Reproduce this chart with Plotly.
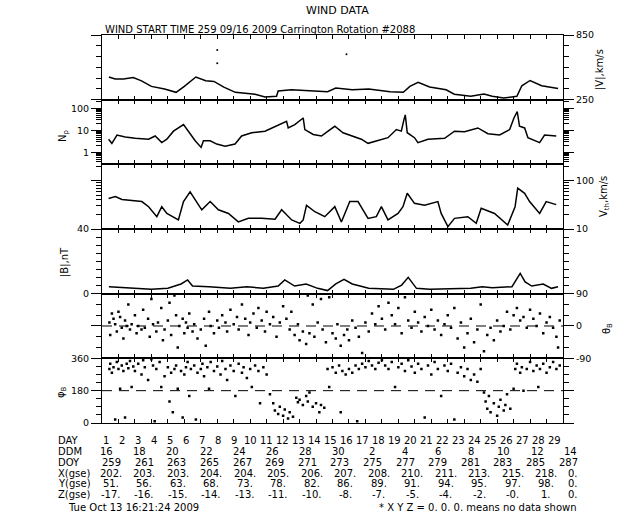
import plotly.graph_objects as go
from plotly.subplots import make_subplots

# ---- solar wind parameters, time in "DAY" units (day 1 = DOY 259) ----
V_DAY = [1.42, 1.8, 2.3, 2.9, 3.4, 4.0, 4.8, 5.5, 6.0, 6.7, 7.3, 7.8, 8.4, 9.1, 10.3, 10.9,
         11.6, 11.7, 12.5, 13.7, 14.7, 15.2, 16.2, 17.2, 18.5, 19.3, 19.7, 20.2, 20.9, 21.9,
         22.4, 23.4, 24.2, 24.7, 25.4, 26.2, 26.5, 27.0, 27.7, 28.7]
V_KMS = [460, 441, 441, 455, 425, 373, 349, 318, 373, 460, 425, 419, 367, 318, 300, 275,
         281, 330, 342, 330, 324, 358, 342, 349, 324, 318, 373, 410, 367, 342,
         300, 281, 302, 281, 265, 281, 379, 428, 379, 354]
V_OUT_DAY = [8.0, 8.0, 15.85]
V_OUT_KMS = [711, 589, 672]

NP_DAY = [1.40, 1.60, 1.91, 2.41, 3.02, 3.83, 4.23, 4.63, 4.94, 5.34, 5.95, 6.25, 6.66, 7.02,
          7.16, 7.57, 7.97, 8.48, 9.08, 9.48, 10.09, 10.90, 11.60, 12.21, 12.31, 12.71, 13.22,
          13.32, 13.83, 14.33, 14.73, 15.14, 15.64, 16.15, 16.75, 17.16, 17.77, 18.37, 18.88,
          19.18, 19.34, 19.42, 19.54, 19.98, 20.19, 20.80, 21.81, 22.41, 23.02, 23.83, 24.44,
          25.15, 25.76, 26.02, 26.22, 26.36, 26.67, 26.87, 27.58, 27.88, 28.59]
NP_CC = [4.0, 2.6, 6.2, 5.0, 4.4, 4.0, 5.6, 2.8, 4.0, 9.3, 18.5, 9.3, 3.4, 1.7,
         3.4, 3.4, 2.4, 1.9, 2.4, 5.6, 7.9, 9.3, 15.5, 26, 13, 18.5, 37,
         11, 6.6, 5.6, 9.3, 15.5, 7.9, 5.6, 4.0, 2.6, 3.4, 4.7, 11,
         9.3, 31, 51, 7.9, 4.7, 2.8, 4.0, 4.4, 9.3, 8.7, 13, 7.1,
         6.2, 11, 37, 72, 15.5, 13, 4.7, 2.8, 6.2, 5.6]

VTH_DAY = [1.40, 1.81, 2.21, 2.82, 3.42, 3.83, 4.33, 4.63, 4.94, 5.64, 5.95, 6.35, 6.66, 7.06,
           7.57, 8.07, 8.68, 9.28, 9.89, 10.70, 11.51, 11.91, 12.52, 13.02, 13.22, 13.42, 13.93,
           14.53, 15.14, 15.54, 16.05, 16.55, 16.85, 17.16, 17.66, 17.97, 18.37, 18.98, 19.28,
           19.54, 19.98, 20.59, 21.40, 21.60, 22.01, 22.41, 23.22, 23.73, 24.03, 24.84, 25.64,
           26.09, 26.25, 26.67, 26.97, 27.58, 27.98, 28.59]
VTH_KMS = [43, 47, 41, 38.5, 37, 29, 18, 29, 21, 15.4, 37, 59, 40, 25,
           37, 25, 21, 14, 16.6, 16.6, 15.9, 25, 15.4, 13.1, 15.4, 31, 22.8,
           18, 29, 14, 37, 37, 25, 16.6, 18, 29, 15.4, 21, 29,
           55, 34, 31, 37, 21, 11.2, 16.6, 18, 13.1, 27, 21, 12.1,
           29, 70, 55, 37, 21, 37, 32]

B_DAY = [1.42, 2.3, 3.3, 4.0, 5.0, 5.8, 6.2, 6.5, 7.5, 8.8, 9.8, 10.8, 11.7, 12.1, 12.7, 13.4,
         14.1, 14.7, 15.2, 15.7, 16.2, 17.2, 18.7, 19.2, 19.6, 20.1, 20.9, 22.2, 23.4, 24.1,
         24.7, 25.9, 26.4, 26.7, 27.1, 27.8, 28.3, 28.7]
B_NT = [4.3, 3.9, 3.3, 2.7, 3.3, 6.0, 8.5, 4.7, 4.3, 3.3, 4.3, 3.3, 4.7, 8.5, 4.7, 6.0,
        3.3, 1.9, 6.0, 8.9, 6.0, 3.3, 2.7, 5.3, 10.1, 3.3, 2.7, 3.1, 3.3, 4.3,
        3.7, 4.3, 12.5, 7.3, 4.7, 6.0, 3.3, 4.3]

TH_DAY = [1.45, 1.5, 1.6, 1.7, 1.8, 1.9, 2.0, 2.1, 2.2, 2.3, 2.4, 2.5, 2.6, 2.7, 2.8, 3.0, 3.1,
          3.2, 3.4, 3.5, 3.6, 3.8, 3.9, 4.0, 4.1, 4.3, 4.4, 4.6, 4.7, 4.8, 5.0, 5.1, 5.2, 5.4,
          5.5, 5.6, 5.7, 5.9, 6.0, 6.1, 6.2, 6.3, 6.5, 6.6, 6.8, 7.0, 7.2, 7.3, 7.5, 7.6, 7.8,
          8.0, 8.1, 8.3, 8.5, 8.6, 8.8, 9.0, 9.2, 9.3, 9.5, 9.7, 9.9, 10.0, 10.2, 10.4, 10.5,
          10.7, 10.9, 11.0, 11.2, 11.4, 11.6, 11.8, 12.0, 12.2, 12.4, 12.5, 12.7, 12.9, 13.0,
          13.2, 13.4, 13.5, 13.6, 13.8, 13.9, 14.1, 14.3, 14.4, 14.6, 14.8, 15.0, 15.2, 15.3,
          15.5, 15.7, 15.9, 16.0, 16.2, 16.4, 16.6, 16.8, 17.0, 17.2, 17.4, 17.6, 17.8, 18.0,
          18.2, 18.4, 18.6, 18.8, 19.0, 19.2, 19.4, 19.6, 19.8, 20.0, 20.2, 20.4, 20.6, 20.8,
          21.0, 21.2, 21.4, 21.6, 21.8, 22.0, 22.2, 22.4, 22.6, 22.8, 23.0, 23.2, 23.4, 23.6,
          23.8, 24.0, 24.2, 24.4, 24.6, 24.8, 25.0, 25.2, 25.4, 25.6, 25.8, 26.0, 26.2, 26.4,
          26.6, 26.8, 27.0, 27.2, 27.4, 27.6, 27.8, 28.0, 28.2, 28.4, 28.6, 28.7, 28.8]
TH_DEG = [10, -25, 35, 20, 5, -15, 40, 25, -5, -35, 15, 0, 60, -10, 5, 30, -20,
          0, -10, 45, -5, 20, -30, 75, 5, -15, 10, 50, -40, -10, 15, 65, -25, 85,
          30, -60, 0, 20, -20, 10, -5, 35, -15, 5, -35, -10, 20, -55, 40, 0, -20,
          15, -5, 30, 10, -15, 45, 5, 25, -10, 60, 20, -25, 10, 35, -5, 50,
          15, -15, 40, 5, 25, -30, 10, 55, 20, -10, 40, -25, 5, -40,
          -15, -50, 85, -20, 60, -30, 10, 75, -10, -45, 80, -20, -35, 5,
          -55, -25, -10, -40, 15, -5, -30, -75, 10, -15, 35, 5, 55, 20,
          -10, 65, 30, 5, 50, -20, 80, 15, -5, 40, 10, -15, 25, 0,
          45, -10, 15, -25, 5, 30, -5, 50, -35, 10, -60, -20, 20, -45,
          -10, 60, -70, -25, -5, -40, 15, -15, 0, 40, -10, 30, 50, 15,
          25, -5, 45, 20, 0, 35, -20, 10, 25, -5, -30, -60, 15]

PH_DAY = [1.45, 1.5, 1.6, 1.7, 1.8, 1.9, 2.0, 2.1, 2.2, 2.3, 2.4, 2.5, 2.6, 2.7, 2.8, 2.9, 3.0,
          3.2, 3.4, 3.5, 3.6, 3.8, 4.0, 4.1, 4.2, 4.3, 4.5, 4.6, 4.8, 5.0, 5.1, 5.2, 5.3, 5.4,
          5.5, 5.6, 5.8, 5.9, 6.0, 6.1, 6.2, 6.3, 6.4, 6.6, 6.7, 6.8, 7.0, 7.1, 7.2, 7.4, 7.5,
          7.6, 7.8, 8.0, 8.2, 8.3, 8.5, 8.6, 8.8, 9.0, 9.1, 9.3, 9.5, 9.6, 9.8, 10.0, 10.1,
          10.3, 10.5, 10.6, 10.8, 11.0, 11.2, 11.4, 11.5, 11.7, 11.8, 12.0, 12.1, 12.3, 12.4,
          12.6, 12.8, 12.9, 13.0, 13.2, 13.4, 13.5, 13.6, 13.8, 14.0, 14.2, 14.3, 14.5, 14.7,
          14.8, 15.0, 15.2, 15.4, 15.5, 15.6, 15.8, 16.0, 16.2, 16.4, 16.5, 16.6, 16.8, 17.0,
          17.2, 17.4, 17.6, 17.8, 18.0, 18.2, 18.4, 18.6, 18.8, 19.0, 19.2, 19.4, 19.6, 19.8,
          20.0, 20.2, 20.4, 20.6, 20.8, 21.0, 21.2, 21.4, 21.6, 21.8, 22.0, 22.2, 22.4, 22.6,
          22.8, 23.0, 23.2, 23.4, 23.6, 23.8, 24.0, 24.2, 24.3, 24.4, 24.5, 24.6, 24.8, 25.0,
          25.1, 25.2, 25.4, 25.5, 25.6, 25.8, 26.0, 26.1, 26.2, 26.4, 26.5, 26.6, 26.8, 27.0,
          27.2, 27.4, 27.5, 27.6, 27.8, 28.0, 28.2, 28.4, 28.6, 28.8]
PH_DEG = [300, 330, 280, 310, 20, 340, 300, 190, 320, 290, 30, 330, 305, 345, 200, 315, 290,
          330, 270, 350, 310, 240, 355, 320, 10, 300, 340, 200, 260, 310, 120, 280, 60, 300,
          320, 190, 290, 30, 270, 310, 340, 150, 300, 320, 20, 280, 300, 330, 260, 310, 190,
          340, 290, 315, 270, 345, 300, 240, 320, 290, 150, 330, 280, 310, 250, 300, 200,
          320, 290, 110, 310, 270, 160, 110, 70, 50, 90, 40, 75, 25, 60,
          35, 140, 115, 130, 100, 150, 120, 170, 90, 110, 60, 100, 85, 300,
          200, 310, 280, 320, 60, 290, 270, 300, 280, 320, 10, 300, 330, 310,
          345, 320, 300, 335, 350, 320, 300, 340, 200, 310, 330, 290, 350, 315,
          280, 330, 300, 30, 320, 270, 340, 300, 150, 320, 290, 330, 20, 280,
          310, 260, 300, 240, 270, 230, 300, 170, 120, 80, 150, 60, 110, 40,
          90, 130, 70, 100, 160, 80, 190, 300, 330, 280, 310, 180, 300, 340,
          290, 320, 200, 300, 330, 280, 310, 340, 300, 320]

# ---- table below the panels ----
DAY_LABELS = ["1", "2", "3", "4", "5", "6", "7", "8", "9", "10", "11", "12", "13", "14", "15",
              "16", "17", "18", "19", "20", "21", "22", "23", "24", "25", "26", "27", "28", "29"]
DDM = ["16", "18", "20", "22", "24", "26", "28", "30", "2", "4", "6", "8", "10", "12", "14"]
DOY = ["259", "261", "263", "265", "267", "269", "271", "273", "275", "277", "279", "281",
       "283", "285", "287"]
X_GSE = ["202.", "203.", "203.", "204.", "204.", "205.", "206.", "207.", "208.", "210.",
         "211.", "213.", "215.", "218.", "0."]
Y_GSE = ["51.", "56.", "63.", "68.", "73.", "78.", "82.", "86.", "89.", "91.", "94.", "95.",
         "97.", "98.", "0."]
Z_GSE = ["-17.", "-16.", "-15.", "-14.", "-13.", "-11.", "-10.", "-8.", "-7.", "-5.", "-4.",
         "-2.", "-0.", "1.", "0."]

W, H = 640, 512
L, R, T, B = 102, 77, 35, 89
PW, PH = W - L - R, H - T - B
FONT = "DejaVu Sans"


def px(x):
    return (x - L) / PW


def py(y):
    return (H - B - y) / PH


fig = make_subplots(rows=6, cols=1, shared_xaxes=True, vertical_spacing=0)

line = dict(color="black", width=1.5)
fig.add_trace(go.Scatter(x=V_DAY, y=V_KMS, mode="lines", line=line), row=1, col=1)
fig.add_trace(go.Scatter(x=V_OUT_DAY, y=V_OUT_KMS, mode="markers",
                         marker=dict(color="black", size=2)), row=1, col=1)
fig.add_trace(go.Scatter(x=NP_DAY, y=NP_CC, mode="lines", line=line), row=2, col=1)
fig.add_trace(go.Scatter(x=VTH_DAY, y=VTH_KMS, mode="lines", line=line), row=3, col=1)
fig.add_trace(go.Scatter(x=B_DAY, y=B_NT, mode="lines", line=line), row=4, col=1)
dots = dict(color="black", size=2.5, symbol="square")
fig.add_trace(go.Scatter(x=TH_DAY, y=TH_DEG, mode="markers", marker=dots), row=5, col=1)
fig.add_trace(go.Scatter(x=PH_DAY, y=PH_DEG, mode="markers", marker=dots), row=6, col=1)

fig.add_hline(y=0, row=5, col=1, line=dict(color="black", width=1, dash="10px,7px"))
fig.add_hline(y=180, row=6, col=1, line=dict(color="black", width=1, dash="10px,7px"))

for r in range(1, 7):
    fig.update_xaxes(range=[1, 29], tick0=1, dtick=1, ticks="inside", ticklen=4,
                     showline=True, mirror="ticks", linecolor="black", linewidth=1,
                     tickcolor="black", showticklabels=False, showgrid=False,
                     zeroline=False, row=r, col=1)

yax = dict(showline=True, mirror="ticks", linecolor="black", linewidth=1, ticks="outside",
           ticklen=10, tickcolor="black", showgrid=False, zeroline=False,
           tickfont=dict(size=9.5, color="black"), tickmode="array")


def minor(**kw):
    return dict(ticks="outside", ticklen=5, tickcolor="black", showgrid=False, **kw)


fig.update_yaxes(**yax, range=[250, 850], tickvals=[250, 850], ticktext=["250", "850"],
                 minor=minor(tick0=250, dtick=100), side="right", row=1, col=1)
fig.update_yaxes(**yax, type="log", range=[-0.54, 2.4],
                 tickvals=[1, 10, 100], ticktext=["1", "10", "100"],
                 minor=minor(tickmode="array",
                             tickvals=[0.4, 0.5, 0.6, 0.7, 0.8, 0.9, 2, 3, 4, 5, 6, 7, 8, 9,
                                       20, 30, 40, 50, 60, 70, 80, 90, 200]),
                 row=2, col=1)
fig.update_yaxes(**yax, type="log", range=[1, 2.34],
                 tickvals=[10, 100], ticktext=["10", "100"], side="right",
                 minor=minor(tickmode="array",
                             tickvals=[20, 30, 40, 50, 60, 70, 80, 90, 200]),
                 row=3, col=1)
fig.update_yaxes(**yax, range=[0, 40], tickvals=[0, 40], ticktext=["0", "40"],
                 minor=minor(tick0=0, dtick=5), row=4, col=1)
fig.update_yaxes(**yax, range=[-90, 90], tickvals=[-90, 0, 90], ticktext=["-90", "0", "90"],
                 minor=minor(tick0=-90, dtick=30), side="right", row=5, col=1)
fig.update_yaxes(**yax, range=[0, 360], tickvals=[0, 180, 360], ticktext=["0", "180", "360"],
                 minor=minor(tick0=0, dtick=45), row=6, col=1)

ann = []


def text(x, y, s, anchor="center", size=10, angle=0):
    ann.append(dict(x=px(x), y=py(y), xref="paper", yref="paper", text=s, showarrow=False,
                    xanchor=anchor, yanchor="middle", textangle=angle,
                    font=dict(family=FONT, size=size, color="black")))


text(337, 10.5, "WIND DATA", size=11)
text(103, 29.5, "WIND START TIME 259 09/16 2009 Carrington Rotation #2088", anchor="left")

# axis titles
text(600, 70, "|V|,km/s", angle=-90)
text(63, 136, "N<sub>p</sub>", angle=-90)
text(605, 197, "V<sub>th</sub>,km/s", angle=-90)
text(65, 262, "|B|,nT", angle=-90)
text(607, 329, "θ<sub>B</sub>", angle=-90)
text(61, 392, "φ<sub>B</sub>", angle=-90)

# table rows
rows = [("DAY", 440.7), ("DDM", 451.7), ("DOY", 462.7),
        ("X(gse)", 473.3), ("Y(gse)", 483.7), ("Z(gse)", 494.0)]
for name, yy in rows:
    text(55.5, yy, name, anchor="left")

for k, s in enumerate(DAY_LABELS):
    text(105.8 + 16.03 * k, 440.7, s)
for k, s in enumerate(DDM):
    text(106.7 + 33.1 * k, 451.7, s)
for k, s in enumerate(DOY):
    text(111.6 + 32.6 * k, 462.7, s)
for vals, yy in [(X_GSE, 473.3), (Y_GSE, 483.7), (Z_GSE, 494.0)]:
    for k, s in enumerate(vals):
        xx = 573 if k == len(vals) - 1 else 110.8 + 33.5 * k
        text(xx, yy, s)

text(65.5, 507, "Tue Oct 13 16:21:24 2009", anchor="left")
text(578.5, 507, "* X Y Z = 0. 0. 0. means no data shown", anchor="right")

fig.update_layout(
    width=W, height=H,
    margin=dict(l=L, r=R, t=T, b=B, pad=0),
    paper_bgcolor="white", plot_bgcolor="white",
    showlegend=False,
    font=dict(family=FONT, size=10, color="black"),
    annotations=ann,
)

fig.write_html("out.html", config={"displayModeBar": False},
               post_script="document.body.style.margin = '0px';")
